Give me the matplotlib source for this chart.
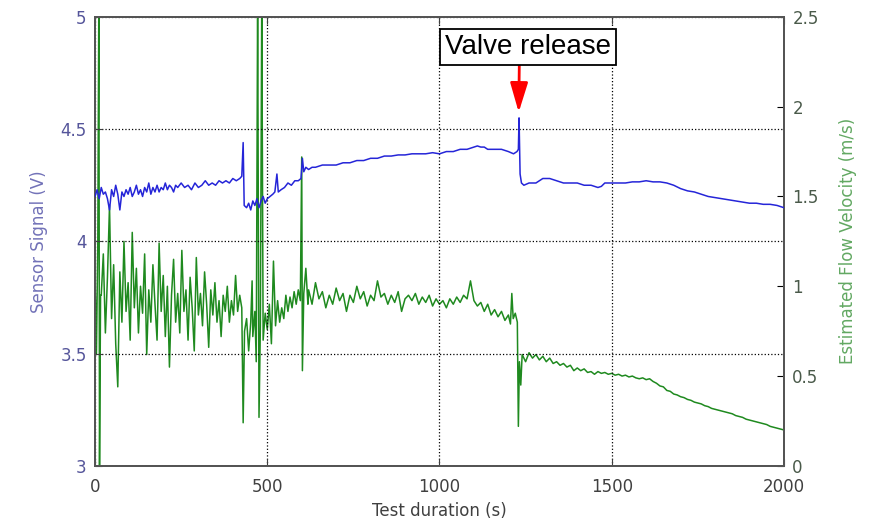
import matplotlib.pyplot as plt
import numpy as np

# sensor signal (V), left axis
t_sensor = [0, 6, 12, 18, 24, 30, 36, 42, 48, 54, 60, 66, 72, 78, 84, 90, 96, 102, 108, 114,
            120, 126, 132, 138, 144, 150, 156, 162, 168, 174, 180, 186, 192, 198, 204, 210, 216,
            222, 228, 234, 240, 250, 260, 270, 280, 290, 300, 310, 320, 330, 340, 350, 360, 370,
            380, 390, 400, 410, 420, 426, 430, 433, 440, 446, 452, 458, 464, 470, 476, 482, 488,
            494, 500, 508, 516, 522, 528, 532, 540, 550, 560, 570, 580, 590, 598, 602, 606, 612,
            620, 630, 640, 660, 680, 700, 720, 740, 760, 780, 800, 820, 840, 860, 880, 900, 920,
            940, 960, 980, 1000, 1020, 1040, 1060, 1080, 1100, 1110, 1120, 1130, 1140, 1160, 1180,
            1200, 1215, 1225, 1229, 1231, 1234, 1238, 1245, 1260, 1280, 1300, 1320, 1340, 1360,
            1380, 1400, 1420, 1440, 1460, 1470, 1480, 1500, 1520, 1540, 1560, 1580, 1600, 1620,
            1640, 1660, 1680, 1700, 1720, 1740, 1760, 1780, 1800, 1820, 1840, 1860, 1880, 1900,
            1920, 1940, 1960, 1980, 2000]
sensor = [4.20, 4.23, 4.19, 4.24, 4.21, 4.22, 4.19, 4.14, 4.23, 4.20, 4.25, 4.21, 4.14, 4.22,
          4.20, 4.23, 4.21, 4.24, 4.20, 4.22, 4.25, 4.21, 4.23, 4.20, 4.24, 4.22, 4.26, 4.21,
          4.24, 4.22, 4.25, 4.22, 4.24, 4.23, 4.26, 4.23, 4.25, 4.24, 4.22, 4.25, 4.24, 4.26,
          4.24, 4.25, 4.23, 4.26, 4.24, 4.25, 4.27, 4.25, 4.26, 4.25, 4.27, 4.26, 4.27, 4.26,
          4.28, 4.27, 4.28, 4.29, 4.44, 4.16, 4.15, 4.17, 4.14, 4.18, 4.16, 4.19, 4.15, 4.18,
          4.20, 4.17, 4.19, 4.20, 4.21, 4.22, 4.30, 4.22, 4.23, 4.24, 4.26, 4.25, 4.27, 4.27,
          4.28, 4.37, 4.31, 4.33, 4.32, 4.33, 4.33, 4.34, 4.34, 4.34, 4.35, 4.35, 4.36, 4.36,
          4.37, 4.37, 4.38, 4.38, 4.385, 4.385, 4.39, 4.39, 4.39, 4.395, 4.39, 4.40, 4.40, 4.41,
          4.41, 4.42, 4.425, 4.42, 4.42, 4.41, 4.41, 4.41, 4.40, 4.39, 4.40, 4.41, 4.55, 4.30,
          4.26, 4.25, 4.26, 4.26, 4.28, 4.28, 4.27, 4.26, 4.26, 4.26, 4.25, 4.25, 4.24, 4.245,
          4.26, 4.26, 4.26, 4.26, 4.265, 4.265, 4.27, 4.265, 4.265, 4.26, 4.25, 4.235, 4.225,
          4.22, 4.21, 4.20, 4.195, 4.19, 4.185, 4.18, 4.175, 4.17, 4.17, 4.165, 4.165, 4.16, 4.15]

# estimated flow velocity (m/s), right axis
t_flow = [0, 4, 8, 11, 13, 16, 18, 24, 30, 36, 42, 48, 54, 60, 66, 72, 78, 84, 90, 96, 102,
          108, 114, 120, 126, 132, 138, 144, 150, 156, 162, 168, 174, 180, 186, 192, 198, 204,
          210, 216, 222, 228, 234, 240, 246, 252, 258, 264, 270, 276, 282, 288, 294, 300, 306,
          312, 318, 324, 330, 336, 342, 348, 354, 360, 366, 372, 378, 384, 390, 396, 402, 408,
          414, 420, 426, 430, 434, 440, 446, 452, 456, 458, 464, 468, 472, 476, 480, 484, 488,
          494, 500, 506, 512, 518, 524, 530, 536, 542, 548, 554, 560, 566, 572, 578, 584, 590,
          596, 600, 602, 606, 612, 618,
          620, 630, 640, 650, 660, 670, 680, 690, 700, 710, 720, 730, 740, 750, 760, 770, 780,
          790, 800, 810, 820, 830, 840, 850, 860, 870, 880, 890, 900, 910, 920, 930, 940, 950,
          960, 970, 980, 990, 1000, 1010, 1020, 1030, 1040, 1050, 1060, 1070, 1080, 1090, 1100,
          1110, 1120, 1130, 1140, 1150, 1160, 1170, 1180, 1190, 1200, 1206, 1210, 1214, 1220,
          1226, 1229, 1232, 1236, 1240, 1250, 1260, 1270, 1280, 1290, 1300, 1310, 1320, 1330,
          1340, 1350, 1360, 1370, 1380, 1390, 1400, 1410, 1420, 1430, 1440, 1450, 1460, 1470,
          1480, 1490, 1500, 1510, 1520, 1530, 1540, 1550, 1560, 1570, 1580, 1590, 1600, 1610,
          1620, 1630, 1640, 1650, 1660, 1670, 1680, 1690, 1700, 1710, 1720, 1730, 1740, 1750,
          1760, 1770, 1780, 1790, 1800, 1810, 1820, 1830, 1840, 1850, 1860, 1870, 1880, 1890,
          1900, 1910, 1920, 1930, 1940, 1950, 1960, 1970, 1980, 1990, 2000]
flow = [1.05, 0.62, 1.25, 2.6, 0.0, 0.95, 0.95, 1.18, 0.74, 1.05, 1.45, 0.82, 1.12, 0.68, 0.44,
        1.08, 0.80, 1.25, 0.86, 1.02, 0.70, 1.30, 0.88, 1.10, 0.74, 1.00, 0.85, 1.18, 0.62, 0.98,
        0.80, 1.12, 0.90, 0.70, 1.24, 0.86, 1.06, 0.72, 1.00, 0.55, 0.95, 1.15, 0.80, 0.96, 0.74,
        1.20, 0.86, 0.98, 0.70, 1.05, 0.88, 0.64, 1.16, 0.84, 0.96, 0.78, 1.08, 0.90, 0.66, 0.98,
        0.84, 1.02, 0.80, 0.92, 0.72, 0.95, 0.86, 1.00, 0.80, 0.92, 0.84, 1.06, 0.86, 0.95, 0.88,
        0.24, 0.75, 0.82, 0.64, 0.80, 1.03, 0.72, 0.86, 0.58, 2.6, 0.27, 0.78, 2.6, 0.70, 0.85,
        0.76, 0.90, 0.68, 1.14, 0.78, 0.92, 0.80, 0.88, 0.82, 0.95, 0.86, 0.94, 0.88, 0.97, 0.90,
        0.98, 0.92, 1.72, 0.53, 0.96, 1.10, 0.90,
        0.98, 0.90, 1.02, 0.93, 0.97, 0.88, 0.95, 0.90, 0.99, 0.92, 0.96, 0.86, 0.95, 0.91, 1.00,
        0.93, 0.97, 0.89, 0.95, 0.92, 1.03, 0.94, 0.96, 0.90, 0.95, 0.91, 0.97, 0.86, 0.93, 0.95,
        0.92, 0.96, 0.90, 0.94, 0.91, 0.95, 0.89, 0.93, 0.90, 0.92, 0.88, 0.93, 0.90, 0.94, 0.91,
        0.95, 0.93, 1.03, 0.92, 0.89, 0.91, 0.86, 0.90, 0.84, 0.87, 0.83, 0.86, 0.81, 0.84, 0.79,
        0.96, 0.82, 0.85, 0.80, 0.22, 0.58, 0.45, 0.62, 0.58, 0.63, 0.60, 0.62, 0.59, 0.61, 0.58,
        0.60, 0.57, 0.58, 0.56, 0.57, 0.55, 0.56, 0.53, 0.545, 0.53, 0.54, 0.52, 0.525, 0.51,
        0.525, 0.515, 0.52, 0.51, 0.515, 0.505, 0.51, 0.50, 0.505, 0.495, 0.50, 0.49, 0.485, 0.49,
        0.48, 0.485, 0.47, 0.46, 0.445, 0.44, 0.42, 0.415, 0.40, 0.395, 0.385, 0.38, 0.37, 0.365,
        0.355, 0.35, 0.345, 0.335, 0.33, 0.32, 0.315, 0.31, 0.305, 0.30, 0.295, 0.29, 0.28, 0.275,
        0.27, 0.26, 0.255, 0.25, 0.245, 0.24, 0.235, 0.23, 0.22, 0.215, 0.21, 0.205, 0.20]

x_ticks = [0, 500, 1000, 1500, 2000]
left_ticks = [3, 3.5, 4, 4.5, 5]
right_ticks = [0, 0.5, 1, 1.5, 2, 2.5]
release_t = 1230
release_v = 4.575

fig = plt.figure(figsize=(8.72, 5.27), dpi=100)
ax = fig.add_axes([0.109, 0.116, 0.790, 0.852])
ax2 = ax.twinx()

ax.plot(t_sensor, sensor, color="#2525d8", lw=1.1, zorder=3)
ax2.plot(t_flow, flow, color="#1f8a1f", lw=1.1)

ax.set_xlim(0, 2000)
ax.set_ylim(3, 5)
ax2.set_ylim(0, 2.5)
ax.set_xticks(x_ticks)
ax.set_yticks(left_ticks)
ax.set_yticklabels(["3", "3.5", "4", "4.5", "5"])
ax2.set_yticks(right_ticks)
ax2.set_yticklabels(["0", "0.5", "1", "1.5", "2", "2.5"])

ax.grid(True, linestyle=":", color="black", lw=0.9)
ax.tick_params(direction="in", top=True, labelsize=12, colors="#404040", length=5)
ax.tick_params(axis="x", pad=9)
ax.tick_params(axis="y", labelcolor="#55559a", pad=6)
ax2.tick_params(direction="in", labelsize=12, labelcolor="#4a5a4a", length=5, pad=6)
for a in (ax, ax2):
    for s in a.spines.values():
        s.set_color("#555555")
        s.set_linewidth(1.4)

ax.set_xlabel("Test duration (s)", fontsize=12, color="#404040", labelpad=4)
ax.set_ylabel("Sensor Signal (V)", fontsize=12, color="#7272b8", labelpad=9)
ax2.set_ylabel("Estimated Flow Velocity (m/s)", fontsize=12, color="#62a862", labelpad=15)

ax.set_zorder(ax2.get_zorder() + 1)
ax.patch.set_visible(False)

ax.annotate("Valve release", xy=(release_t, release_v), xytext=(1256, 4.866),
            fontsize=20, family="Liberation Sans", ha="center", va="center",
            bbox=dict(boxstyle="square,pad=0.18", fc="white", ec="black", lw=1.3),
            arrowprops=dict(arrowstyle="-|>,head_length=1.0,head_width=0.3", color="red",
                            lw=2.0, relpos=(0.45, 0), shrinkA=0, shrinkB=0,
                            mutation_scale=18))

fig.savefig("out.png", dpi=100)
